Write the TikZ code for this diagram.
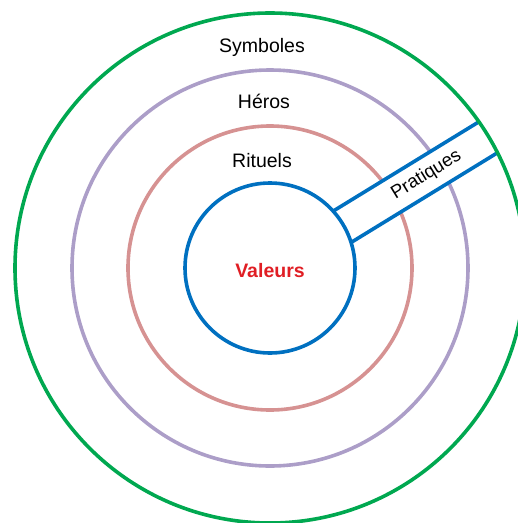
\documentclass[tikz,border=0pt]{standalone}
\usepackage{fontspec}
\setmainfont{Liberation Sans}
\definecolor{cgreen}{RGB}{0,168,80}
\definecolor{cpurple}{RGB}{172,158,200}
\definecolor{cpink}{RGB}{214,146,146}
\definecolor{cblue}{RGB}{0,112,192}
\definecolor{cred}{RGB}{224,30,36}
\tikzset{
  ring/.style={line width=3.6pt},
  lbl/.style={font=\fontsize{19.5}{22}\selectfont, inner sep=0pt, anchor=base, text=black},
}
\begin{document}
\begin{tikzpicture}[x=1pt,y=1pt]
\useasboundingbox (0,0) rectangle (518,-523);
\clip (0,0) rectangle (518,-523);
\coordinate (C) at (270,-268);
% inner rings under the band
\draw[ring, cpink] (C) circle[radius=142];
\draw[ring, cpurple] (C) circle[radius=198];
% band
\begin{scope}[shift={(C)}, rotate=31.5]
  \fill[white] (80,15.5) -- (254.5,15.5) -- (254.2,-20.6) -- (80,-20.6) -- cycle;
  \coordinate (u1) at (83.6,15.5);
  \coordinate (u2) at (254.5,15.5);
  \coordinate (l1) at (82.5,-20.6);
  \coordinate (l2) at (254.2,-20.6);
  \draw[ring, cblue] (u1) -- (u2);
  \draw[ring, cblue] (l1) -- (l2);
  \node[font=\fontsize{18.5}{21}\selectfont, rotate=31.5, inner sep=0pt] (prat) at (182,-2.5) {Pratiques};
\end{scope}
\draw[ring, cblue] (C) circle[radius=85];
\draw[ring, cgreen] (C) circle[radius=255];
% labels
\node[lbl] (sym) at (262,-52) {Symboles};
\node[lbl] (her) at (264,-108) {Héros};
\node[lbl] (rit) at (262,-167) {Rituels};
\node[lbl, text=cred, font=\fontsize{19.5}{22}\selectfont\bfseries] (val) at (270,-277) {Valeurs};
\end{tikzpicture}
\end{document}
